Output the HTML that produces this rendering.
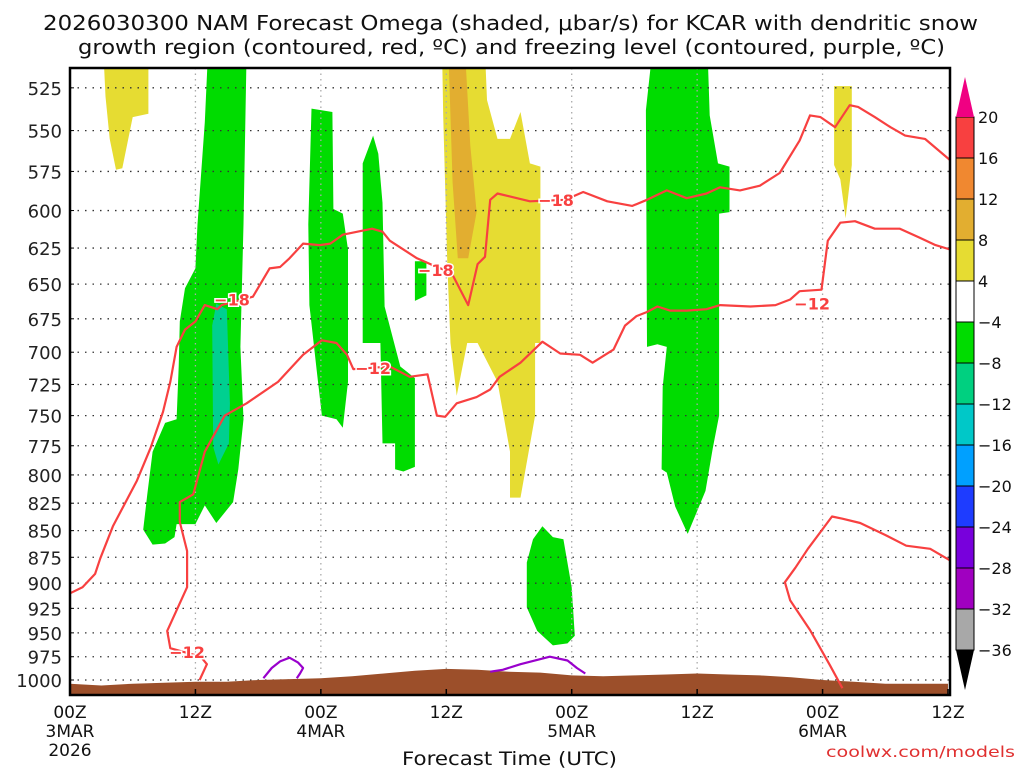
<!DOCTYPE html>
<html><head><meta charset="utf-8"><style>
body{margin:0;background:#fff;width:1024px;height:768px;overflow:hidden}
svg{display:block}
text{font-family:"DejaVu Sans","Liberation Sans",sans-serif}
</style></head><body>
<svg id="c" width="1024" height="768" viewBox="0 0 1024 768">
<text x="43" y="30" font-size="20" textLength="935" lengthAdjust="spacingAndGlyphs" fill="#111">2026030300 NAM Forecast Omega (shaded, μbar/s) for KCAR with dendritic snow</text>
<text x="78" y="54" font-size="20" textLength="867" lengthAdjust="spacingAndGlyphs" fill="#111">growth region (contoured, red, ºC) and freezing level (contoured, purple, ºC)</text>
<text x="402" y="765" font-size="19" textLength="215" lengthAdjust="spacingAndGlyphs" fill="#111">Forecast Time (UTC)</text>
<text x="826" y="757" font-size="15" textLength="189" lengthAdjust="spacingAndGlyphs" fill="#e03030">coolwx.com/models</text>
<defs><clipPath id="pc"><rect x="70" y="68" width="880" height="627"/></clipPath></defs>
<g id="plot" clip-path="url(#pc)"></g>
<g id="axes"></g>
</svg>
<script>
const pressureTicks=[525,550,575,600,625,650,675,700,725,750,775,800,825,850,875,900,925,950,975,1000];
const timeTicks=[0,12,24,36,48,60,72,84];
const timeLabels=[["00Z","3MAR","2026"],["12Z"],["00Z","4MAR"],["12Z"],["00Z","5MAR"],["12Z"],["00Z","6MAR"],["12Z"]];
const colorLevels=["20","16","12","8","4","−4","−8","−12","−16","−20","−24","−28","−32","−36"];
const colorFills=["#f84040","#f08830","#e2ae30","#e6dc32","#ffffff","#00dc00","#00d080","#00c8c8","#00a0ff","#1e3cff","#7800dc","#a000c0","#a8a8a8"];
const yellow1=[[3.2,505],[7.5,505],[7.5,540],[6.0,542],[5.0,573],[4.4,574],[3.8,555],[3.4,530]];
const greenA=[[13.2,505],[12.9,545],[12.2,609],[12.0,639],[11.0,653],[10.5,677],[10.4,711],[10.2,753],[9.1,756],[7.9,780],[7.4,817],[7.0,849],[7.9,863],[9.1,862],[10.0,856],[10.2,844],[12.0,844],[12.9,827],[14.0,843],[15.6,824],[16.1,795],[16.6,753],[16.3,696],[16.6,609],[16.9,505]];
const tealA=[[14.0,664],[15.0,668],[15.3,740],[15.2,773],[14.2,791],[13.7,776],[13.6,680]];
const greenB=[[23.1,537],[25.1,539],[25.2,599],[26.1,602],[26.6,626],[26.6,723],[26.1,760],[25.5,753],[24.1,750],[23.6,714],[22.9,665],[22.8,609]];
const greenC=[[29.0,553],[28.0,570],[28.0,693],[29.7,693],[29.9,773],[31.1,773],[31.1,795],[31.9,797],[33.0,793],[33.0,720],[31.6,711],[30.1,666],[29.9,595],[29.5,564]];
const greenD=[[33.0,634],[34.1,634],[34.1,658],[33.0,662]];
const yellowE=[[35.6,505],[35.7,541],[36.1,636],[36.4,693],[37.0,734],[38.0,693],[39.0,693],[40.9,723],[42.1,780],[42.1,820],[43.1,820],[44.5,750],[44.5,693],[45.0,693],[45.0,572],[44.0,570],[43.1,539],[42.1,555],[40.9,555],[39.9,532],[39.7,505]];
const orangeF=[[36.2,505],[37.8,505],[38.3,559],[38.9,601],[38.1,632],[37.1,632],[36.6,582]];
const greenG=[[45.2,846],[46.2,856],[47.2,858],[48.0,904],[48.3,953],[47.6,961],[46.2,963],[44.7,948],[43.7,924],[43.7,880],[44.3,858]];
const greenH=[[55.7,505],[61.0,505],[61.2,541],[62.0,570],[63.1,572],[63.1,601],[62.1,602],[62.1,750],[61.5,777],[60.8,814],[59.1,853],[57.9,828],[57.1,798],[56.6,795],[56.7,727],[57.1,696],[56.2,694],[55.2,696],[55.1,538]];
const yellowI=[[73.1,524],[74.8,524],[74.8,571],[74.2,605],[73.7,580],[73.1,571]];
const terrainHours=[0,3,6,9,12,15,18,21,24,27,30,33,36,39,42,45,48,51,54,57,60,63,66,69,72,75,78,81,84];
const terrainP=[1004,1006,1004,1003,1002,1002,1000,999,998,996,993,990,988,989,991,992,995,996,995,994,993,994,995,997,1000,1002,1004,1004,1004];
const line18=[[0,910],[1.2,904],[2.4,891],[2.9,876],[4.1,846],[6.4,805],[7.7,777],[8.9,747],[9.6,723],[10.2,696],[11.0,683],[12.0,677],[12.9,665],[14.1,668],[14.5,665],[17.5,659],[19.1,639],[20.1,638],[21.0,632],[22.3,622],[23.9,623],[24.9,622],[26.1,616],[28.9,612],[29.9,614],[30.6,620],[33.2,632],[35.1,638],[36.5,642],[38.1,665],[39.0,636],[39.7,631],[40.2,593],[40.9,589],[44.0,594],[47.4,593],[49.1,588],[51.4,594],[53.8,597],[55.2,593],[57.1,587],[59.0,592],[60.9,589],[62.2,585],[64.1,587],[66.0,584],[67.9,576],[69.8,556],[70.8,541],[71.8,542],[73.2,548],[74.6,535],[75.4,536],[77.0,542],[78.5,548],[79.9,553],[81.8,555],[84.2,568]];
const line12a=[[12.4,1000],[13.1,983],[12.5,975],[9.6,966],[9.3,948],[11.2,904],[11.2,869],[10.5,842],[10.5,824],[11.8,817],[12.9,780],[14.8,750],[16.9,740],[19.9,723],[22.3,702],[24.1,691],[25.5,693],[26.5,702],[27.1,713],[30.6,711],[32.5,719],[34.2,717],[35.1,750],[35.9,751],[37.0,740],[38.9,735],[40.2,729],[41.1,719],[43.1,708],[45.2,692],[46.9,701],[48.8,702],[50.0,708],[52.0,698],[53.1,680],[54.2,673],[55.2,670],[56.2,666],[57.4,669],[59.0,669],[60.9,668],[62.2,665],[65.1,666],[67.5,665],[68.9,661],[69.8,655],[71.9,654],[72.5,620],[73.7,608],[75.1,607],[77.0,612],[79.4,612],[81.3,618],[82.8,623],[84.2,626]];
const line12b=[[73.9,1009],[72.7,984],[70.8,947],[68.9,917],[68.4,899],[69.4,885],[70.6,867],[71.9,850],[72.9,837],[73.9,839],[75.6,843],[78.0,854],[80.0,864],[82.3,867],[84.2,878]];
const frz1=[[18.5,998],[19.3,987],[20.1,980],[21.0,976],[21.8,981],[22.3,987],[22.0,993],[21.7,998]];
const frz2=[[40.2,991],[41.4,989],[43.1,983],[45.9,975],[47.6,979],[48.5,987],[49.3,993]];
const labels18=[[15.5,661,"−18"],[35.0,640,"−18"],[46.5,593,"−18"]];
const labels12=[[11.2,970,"−12"],[29.0,712,"−12"],[71.0,664,"−12"]];

const NS="http://www.w3.org/2000/svg";
const X=h=>70+h*878/84;
const Y=p=>680-919*Math.log(1000/p);
function mk(tag,attrs,parent){const e=document.createElementNS(NS,tag);for(const k in attrs)e.setAttribute(k,attrs[k]);parent.appendChild(e);return e;}
const plot=document.getElementById('plot'),axes=document.getElementById('axes');
const pts=a=>a.map(d=>X(d[0]).toFixed(1)+","+Y(d[1]).toFixed(1)).join(" ");
function poly(arr,fill,name){const e=mk('polygon',{points:pts(arr),fill:fill},plot);

}
function line(arr,col,name){const e=mk('polyline',{points:pts(arr),fill:'none',stroke:col,'stroke-width':2.2,'stroke-linejoin':'round'},plot);

}
poly(yellow1,'#e6dc32','omega-shade-yellow-1');
poly(greenA,'#00dc00','omega-shade-green-a');
poly(tealA,'#00d090','omega-shade-teal-a');
poly(greenB,'#00dc00','omega-shade-green-b');
poly(greenC,'#00dc00','omega-shade-green-c');
poly(greenD,'#00dc00','omega-shade-green-d');
poly(yellowE,'#e6dc32','omega-shade-yellow-e');
poly(orangeF,'#e2ae30','omega-shade-orange-f');
poly(greenG,'#00dc00','omega-shade-green-g');
poly(greenH,'#00dc00','omega-shade-green-h');
poly(yellowI,'#e6dc32','omega-shade-yellow-i');
pressureTicks.forEach(p=>{const e=mk('line',{x1:70,x2:950,y1:Y(p),y2:Y(p),stroke:'#333','stroke-width':1.3,'stroke-dasharray':'1.5 6'},plot);

});
timeTicks.slice(1,-1).forEach(h=>{const e=mk('line',{x1:X(h),x2:X(h),y1:68,y2:695,stroke:'#aaa','stroke-width':1.3,'stroke-dasharray':'1.5 4'},plot);

});
const tp=terrainHours.map((h,i)=>[h,terrainP[i]]);
const terr=[[0,1030]].concat(tp).concat([[84,1030]]);
poly(terr,'#9c4f2a','terrain');
line(line18,'#f84040','dgz-contour-minus18');
line(line12a,'#f84040','dgz-contour-minus12');
line(line12b,'#f84040','dgz-contour-minus12-lower');
line(frz1,'#9900cc','freezing-level-1');
line(frz2,'#9900cc','freezing-level-2');
labels18.concat(labels12).forEach(l=>{const t=mk('text',{x:X(l[0]),y:Y(l[1])+6,'font-size':16,'font-weight':'bold',fill:'#f84040','text-anchor':'middle',stroke:'#fff','stroke-width':3,'paint-order':'stroke'},plot);t.textContent=l[2];

});
const fr=mk('rect',{x:70,y:68,width:880,height:627,fill:'none',stroke:'#000','stroke-width':2.5},axes);


pressureTicks.forEach(p=>{const t=mk('text',{x:62,y:Y(p)+7,'font-size':18,'text-anchor':'end',fill:'#222'},axes);t.textContent=p;


mk('line',{x1:70,x2:74,y1:Y(p),y2:Y(p),stroke:'#000'},axes);});
timeTicks.forEach((h,i)=>{timeLabels[i].forEach((s,j)=>{const t=mk('text',{x:X(h),y:718+j*19,'font-size':17,'text-anchor':'middle',fill:'#111'},axes);t.textContent=s;

});
mk('line',{x1:X(h),x2:X(h),y1:689,y2:695,stroke:'#000','stroke-width':1.5},axes);});
const cbTop=117,cbStep=41,cbX=956,cbW=18;
colorFills.forEach((c,i)=>{const r=mk('rect',{x:cbX,y:cbTop+i*cbStep,width:cbW,height:cbStep,fill:c,stroke:'#000','stroke-width':1},axes);

});
const tu=mk('polygon',{points:`${cbX},${cbTop} ${cbX+cbW},${cbTop} ${cbX+cbW/2},${cbTop-40}`,fill:'#f00082'},axes);


const cbBot=cbTop+colorFills.length*cbStep;
const tb=mk('polygon',{points:`${cbX},${cbBot} ${cbX+cbW},${cbBot} ${cbX+cbW/2},${cbBot+40}`,fill:'#000'},axes);


colorLevels.forEach((s,i)=>{const t=mk('text',{x:978,y:cbTop+i*cbStep+6,'font-size':16,fill:'#111'},axes);t.textContent=s;

});
</script>
</body></html>
